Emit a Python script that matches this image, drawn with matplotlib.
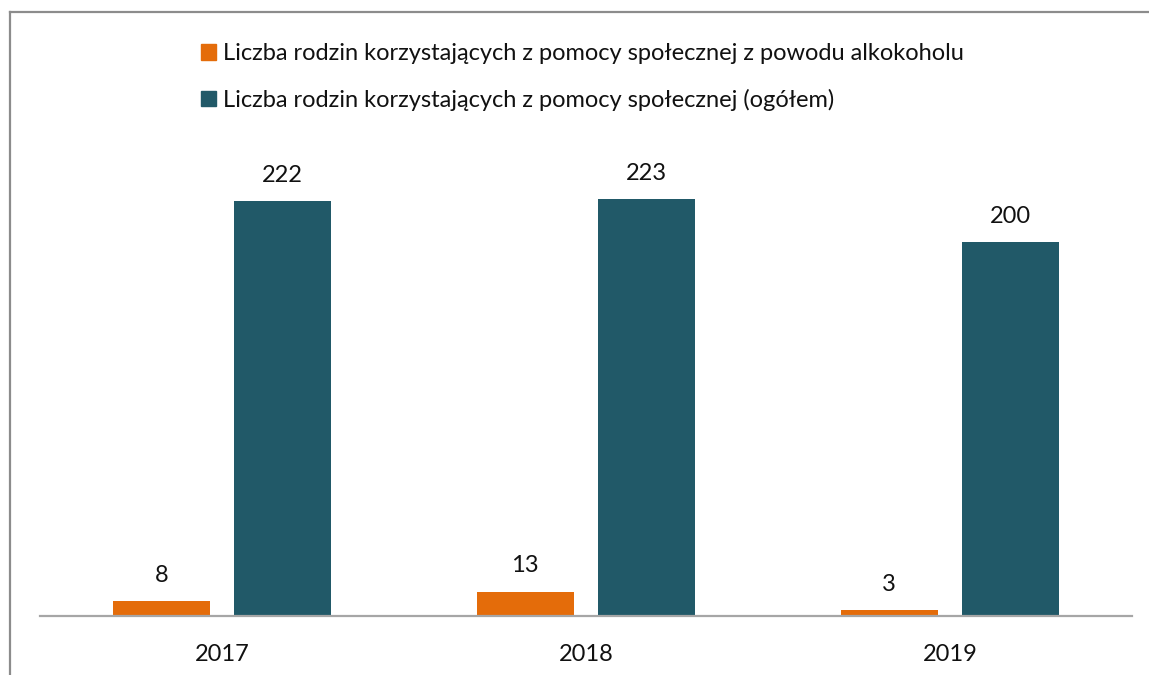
import matplotlib
matplotlib.use("Agg")
import matplotlib.pyplot as plt
from matplotlib.lines import Line2D
from matplotlib.patches import Patch
import numpy as np

years = ["2017", "2018", "2019"]
alcohol = [8, 13, 3]
total = [222, 223, 200]
labels = ["Liczba rodzin korzystających z pomocy społecznej z powodu alkokoholu",
          "Liczba rodzin korzystających z pomocy społecznej (ogółem)"]
colors = ["#E46C0A", "#215968"]

plt.rcParams['font.family'] = ['Lato', 'DejaVu Sans']

W, H = 1149, 675
fig = plt.figure(figsize=(W/100, H/100), dpi=100)
ax = fig.add_axes([40/W, 59/H, (1132-40)/W, (616-150)/H])

x = np.arange(len(years))
bw = 0.266
off = 0.167
b1 = ax.bar(x - off, alcohol, bw, color=colors[0])
b2 = ax.bar(x + off, total, bw, color=colors[1])
for bars, vals in ((b1, alcohol), (b2, total)):
    for r, v in zip(bars, vals):
        ax.annotate(str(v), (r.get_x() + r.get_width()/2, r.get_height()),
                    xytext=(0, 11), textcoords='offset points',
                    ha='center', va='bottom', fontsize=17, color='#111111')

ax.set_xlim(-0.5, 2.5)
ax.set_ylim(0, 249.2)
ax.set_xticks(x)
ax.set_xticklabels(years, fontsize=17, color='#111111')
ax.tick_params(axis='x', length=0, pad=20)
ax.set_yticks([])
for s in ['top', 'right', 'left']:
    ax.spines[s].set_visible(False)
ax.spines['bottom'].set_color('#A6A6A6')
ax.spines['bottom'].set_linewidth(1.6)

handles = [Patch(color=c) for c in colors]
fig.legend(handles, labels, loc='upper left', bbox_to_anchor=(180/W, 1 - 22/H),
           frameon=False, fontsize=17, handlelength=0.62, handleheight=0.62,
           handletextpad=0.3, labelspacing=1.05, labelcolor='#111111')

# frame lines (partial border)
fig.add_artist(Line2D([10/W, 1.0], [1 - 11.5/H, 1 - 11.5/H], color='#8C8C8C', lw=1.6))
fig.add_artist(Line2D([10/W, 10/W], [0, 1 - 11.5/H], color='#8C8C8C', lw=1.6))

fig.savefig("out.png", dpi=100, facecolor='white')
